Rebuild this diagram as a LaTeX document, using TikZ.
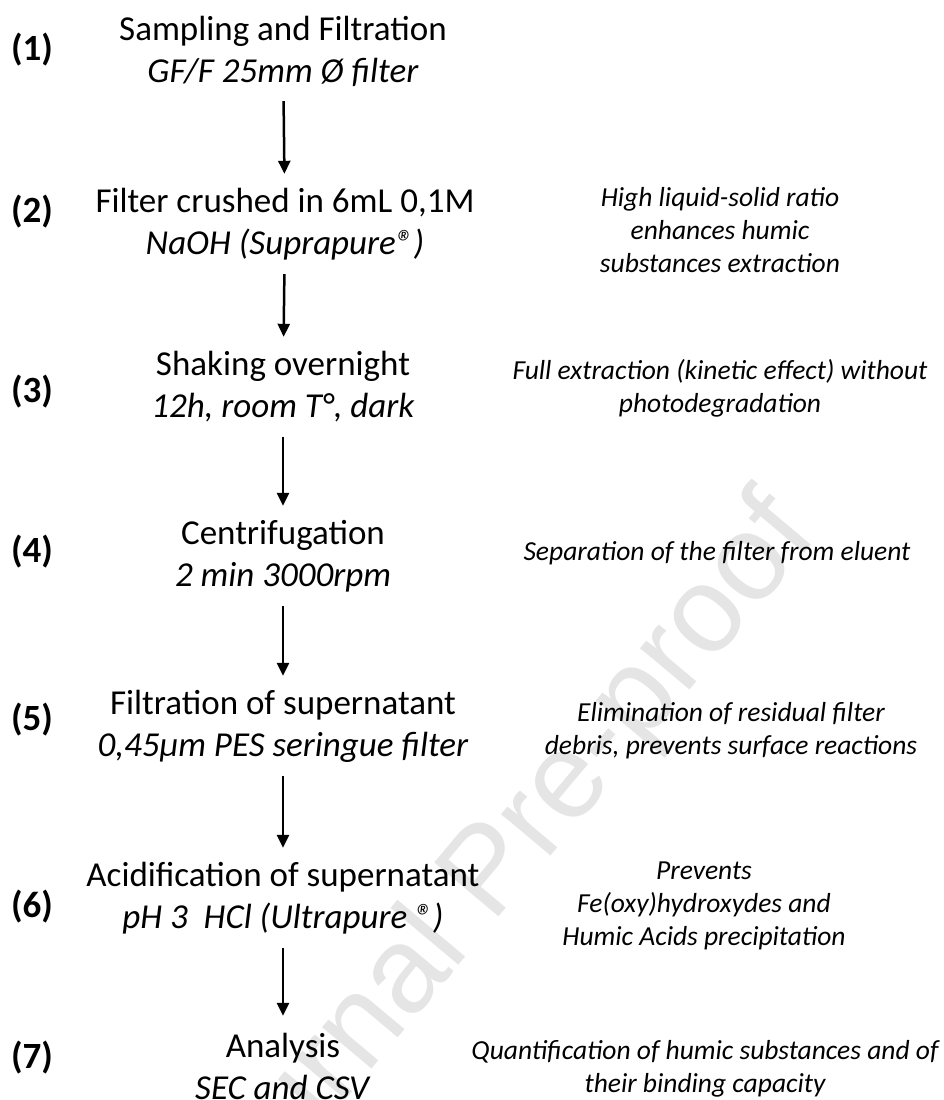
\documentclass[tikz,border=0pt]{standalone}
\usepackage{fontspec}
\setmainfont{Carlito}
\newfontfamily\wmfont{Liberation Sans}
\usetikzlibrary{arrows.meta}
\begin{document}
\begin{tikzpicture}[x=1pt,y=-1pt,
  stepnode/.style={align=center,inner sep=0pt,minimum height=100pt,
    font=\fontsize{35}{42}\selectfont},
  note/.style={align=center,inner sep=0pt,
    font=\itshape\fontsize{27.5}{33}\selectfont},
  numlab/.style={inner sep=0pt,font=\bfseries\fontsize{37}{40}\selectfont},
  flow/.style={line width=2.5pt,-{Triangle[width=12pt,length=13pt]}},
  wmark/.style={inner sep=0pt,text=black!10,font=\wmfont\fontsize{122}{128}\selectfont}]
\useasboundingbox (0,0) rectangle (943,1100);
\fill[white] (0,0) rectangle (943,1100);
\begin{scope}
\clip (0,0) rectangle (943,1100);
\node[wmark,rotate=50,anchor=base east] (wm) at (820,535) {Journal Pre-proof};
\end{scope}

\node[numlab] (n1) at (32,50) {(1)};
\node[numlab] (n2) at (32,212) {(2)};
\node[numlab] (n3) at (32,392) {(3)};
\node[numlab] (n4) at (32,552) {(4)};
\node[numlab] (n5) at (32,720) {(5)};
\node[numlab] (n6) at (32,907) {(6)};
\node[numlab] (n7) at (32,1058) {(7)};

\node[stepnode] (s1) at (283,51) {Sampling and Filtration\\\textit{GF/F 25mm Ø filter}};
\node[stepnode] (s2) at (285,224) {Filter crushed in 6mL 0,1M\\\textit{NaOH (Suprapure®)}};
\node[stepnode] (s3) at (283,387) {Shaking overnight\\\textit{12h, room T°, dark}};
\node[stepnode] (s4) at (283,556) {Centrifugation\\\textit{2 min 3000rpm}};
\node[stepnode] (s5) at (283,726) {Filtration of supernatant\\\textit{0,45µm PES seringue filter}};
\node[stepnode] (s6) at (283,898) {Acidification of supernatant\\\textit{pH 3\ \ HCl (Ultrapure ®)}};
\node[stepnode] (s7) at (283,1066) {Analysis\\\textit{SEC and CSV}};

\draw[flow] (s1) -- (s2);
\draw[flow] (s2) -- (s3);
\draw[flow] (s3) -- (s4);
\draw[flow] (s4) -- (s5);
\draw[flow] (s5) -- (s6);
\draw[flow] (s6) -- (s7);

\node[note] (c2) at (720,230) {High liquid-solid ratio\\enhances humic\\substances extraction};
\node[note] (c3) at (720,388) {Full extraction (kinetic effect) without\\photodegradation};
\node[note] (c4) at (717,553) {Separation of the filter from eluent};
\node[note] (c5) at (731,731) {Elimination of residual filter\\debris, prevents surface reactions};
\node[note] (c6) at (704,906) {Prevents\\Fe(oxy)hydroxydes and\\Humic Acids precipitation};
\node[note] (c7) at (705,1069) {Quantification of humic substances and of\\their binding capacity};
\end{tikzpicture}
\end{document}
